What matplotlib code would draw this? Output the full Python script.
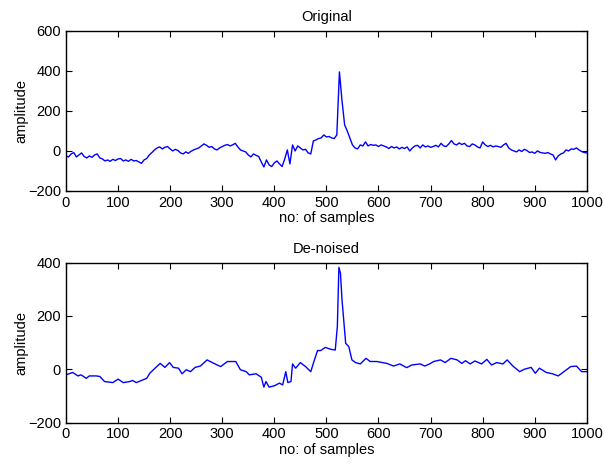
import numpy as np
import matplotlib
matplotlib.use("Agg")
import matplotlib.pyplot as plt

plt.rcParams['font.family'] = ['Liberation Sans', 'DejaVu Sans']

# original (noisy) signal, read every 5 samples
orig_x = np.arange(0, 1001, 5)
orig_y = [
    -25, -30, -15, -8, -30, -20, -10, -28, -35, -25,
    -32, -20, -15, -35, -40, -50, -45, -52, -42, -48,
    -40, -38, -50, -45, -52, -42, -50, -48, -55, -62,
    -45, -38, -20, -8, 5, 15, 20, 10, 18, 22,
    10, 0, 8, 2, -10, -15, -5, -12, -2, 5,
    10, 15, 25, 35, 28, 18, 22, 10, 5, 15,
    22, 28, 32, 25, 30, 38, 20, 5, 0, -5,
    -20, -30, -15, -22, -28, -55, -80, -45, -70, -78,
    -60, -50, -65, -78, -40, 5, -65, 30, 0, 25,
    15, 5, 8, -10, -15, 50, 55, 62, 65, 80,
    70, 72, 65, 62, 80, 395, 250, 130, 100, 65,
    30, 15, 10, 30, 25, 45, 25, 32, 28, 30,
    22, 30, 25, 20, 12, 22, 15, 20, 10, 18,
    12, 20, 0, 15, 25, 28, 15, 30, 20, 25,
    18, 22, 28, 20, 38, 25, 22, 35, 52, 35,
    30, 40, 32, 38, 25, 22, 35, 30, 20, 15,
    45, 30, 22, 28, 20, 25, 22, 18, 30, 38,
    15, 5, 0, -5, 5, -3, 8, 2, -8, -5,
    -12, 0, -7, -10, -12, -8, -15, -20, -45, -25,
    -15, -10, 5, 0, 10, 8, 15, 5, -3, -8,
    -10,
]

# de-noised signal
den_x = [0, 13, 23, 29, 39, 45, 58, 65, 74, 90, 100, 110, 123, 128, 135, 145,
         155, 161, 171, 181, 190, 199, 206, 216, 223, 231, 239, 248, 258, 271,
         284, 297, 310, 326, 335, 346, 352, 365, 375, 380, 384, 390, 400, 410,
         416, 422, 426, 432, 435, 441, 450, 460, 470, 476, 483, 489, 498, 508,
         517, 521, 524, 527, 530, 537, 543, 549, 556, 565, 576, 584, 597, 616,
         629, 641, 654, 664, 680, 689, 698, 706, 719, 728, 739, 751, 760, 767,
         776, 785, 798, 808, 817, 827, 839, 847, 858, 871, 880, 893, 901, 909,
         922, 934, 945, 956, 969, 980, 990, 1000]
den_y = [-21, -12, -25, -21, -34, -25, -25, -27, -46, -50, -37, -50, -46, -42, -50, -42,
         -34, -15, 4, 22, 7, 25, 7, 4, -17, -2, -9, 7, 12, 35,
         22, 10, 29, 29, -2, -9, -21, -17, -30, -67, -46, -67, -62, -52,
         -59, -9, -50, -46, 20, 4, 25, 10, -9, 29, 70, 70, 82, 75,
         72, 160, 382, 360, 260, 97, 85, 35, 25, 20, 41, 29, 29, 22,
         12, 20, 6, 16, 20, 12, 20, 29, 35, 25, 41, 35, 22, 32,
         20, 31, 20, 37, 16, 25, 20, 35, 12, -9, 0, 7, -15, 4,
         -12, -17, -25, -9, 10, 12, -9, -9]

fig = plt.figure(figsize=(6.05, 4.68), dpi=100)

def style(ax, ylim, yticks):
    ax.set_xlim(0, 1000)
    ax.set_ylim(*ylim)
    ax.set_xticks(range(0, 1001, 100))
    ax.set_yticks(yticks)
    ax.tick_params(direction='in', top=True, right=True, length=4, labelsize=10.5)
    for s in ax.spines.values():
        s.set_linewidth(1.0)
    ax.set_xlabel("no: of samples", fontsize=10.5, labelpad=1)
    ax.set_ylabel("amplitude", fontsize=10.5, labelpad=0)

ax1 = fig.add_axes([0.109, 0.592, 0.861, 0.342])
ax1.plot(orig_x, orig_y, color='#0000ff', lw=1.0)
style(ax1, (-200, 600), [-200, 0, 200, 400, 600])
ax1.set_title("Original", fontsize=10.5, pad=7)

ax2 = fig.add_axes([0.109, 0.097, 0.861, 0.342])
ax2.plot(den_x, den_y, color='#0000ff', lw=1.0)
style(ax2, (-200, 400), [-200, 0, 200, 400])
ax2.set_title("De-noised", fontsize=10.5, pad=7)

fig.savefig("out.png", dpi=100)
